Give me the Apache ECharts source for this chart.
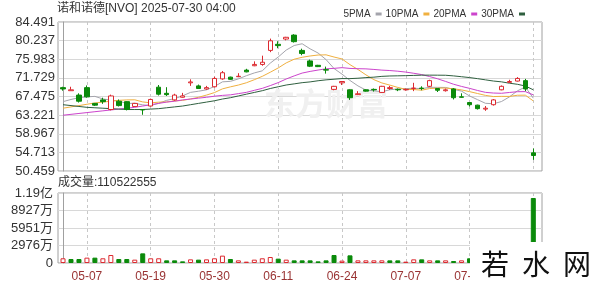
<!DOCTYPE html>
<html><head><meta charset="utf-8">
<script src="https://cdn.jsdelivr.net/npm/echarts@6/dist/echarts.min.js"></script>
<style>html,body{margin:0;padding:0;background:#fff;}#c{width:600px;height:287px;}</style>
</head><body><div id="c"></div>
<script>
// ---------- data ----------
const dates = ['05-02','05-05','05-06','05-07','05-08','05-09','05-12','05-13','05-14','05-15',
  '05-16','05-19','05-20','05-21','05-22','05-23','05-27','05-28','05-29','05-30',
  '06-02','06-03','06-04','06-05','06-06','06-09','06-10','06-11','06-12','06-13',
  '06-16','06-17','06-18','06-20','06-23','06-24','06-25','06-26','06-27','06-30',
  '07-01','07-02','07-03','07-07','07-08','07-09','07-10','07-11','07-14','07-15',
  '07-16','07-17','07-18','07-21','07-22','07-23','07-24','07-25','07-28','07-29'];
const opens  = [69.5,68.8,67.8,69.5,65.9,66.7,64.5,66.4,66.3,65.2, 64.5,65.3,69.6,68.2,66.7,67.3,70.6,69.9,69.2,69.7,
  71.5,71.9,72.0,73.5,74.5,74.8,78.0,79.4,80.6,81.5, 78.0,75.6,74.6,73.6,69.1,70.6,69.0,67.9,69.0,69.1,
  68.4,69.3,69.1,69.0,69.3,69.4,69.8,69.3,68.8,69.2, 67.4,66.1,65.5,64.6,65.6,69.0,70.7,71.0,71.1,54.6];
const closes = [69.2,69.0,66.4,67.4,65.5,66.3,67.6,65.4,64.5,65.9, 64.4,66.8,68.0,67.9,67.8,67.6,70.8,69.3,69.5,71.6,
  72.9,71.4,72.1,73.1,74.8,75.3,80.2,79.1,81.0,80.0, 77.3,74.4,74.3,73.5,69.8,70.9,67.2,68.1,68.7,69.0,
  69.8,69.5,69.0,69.1,69.4,69.3,71.1,68.9,69.0,67.2, 67.3,65.6,64.7,64.8,66.7,69.8,70.9,71.6,69.2,54.0];
const lows   = [68.8,68.8,66.1,67.2,65.3,65.8,64.3,65.2,64.3,65.1, 63.3,65.2,67.7,67.6,66.5,67.2,69.9,69.2,69.0,69.5,
  71.3,71.3,71.9,73.0,74.4,74.5,77.6,78.5,80.3,79.8, 76.9,74.2,74.2,72.7,68.9,70.1,66.7,67.8,68.6,68.6,
  68.3,69.0,68.7,68.8,68.7,68.9,69.6,68.5,68.6,66.8, 67.2,65.2,64.5,64.2,65.4,68.9,70.6,70.9,68.7,53.0];
const highs  = [69.7,69.7,68.2,70.0,66.0,67.2,67.9,66.8,66.4,66.0, 64.6,67.0,70.1,69.6,68.1,68.3,71.4,70.2,69.9,72.0,
  73.3,72.0,72.8,73.8,75.5,76.8,80.7,80.1,81.1,81.7, 78.4,75.9,74.7,74.3,69.9,71.0,69.1,68.7,69.1,69.3,
  69.9,69.9,69.3,69.3,70.6,69.8,71.3,69.4,69.3,69.4, 68.2,66.2,65.6,65.3,66.9,70.0,71.3,71.9,71.5,55.6];
const volumes = [8000000,6800000,6800000,9100000,9100000,8000000,13600000,6800000,6800000,5700000,
  16400000,8000000,8000000,4500000,4500000,2800000,6200000,5700000,6200000,8000000,
  12500000,6800000,4500000,2300000,5700000,8000000,10200000,7400000,5700000,4500000,
  4500000,4500000,2800000,4500000,13600000,4000000,13000000,4500000,4500000,4500000,
  4500000,4500000,4500000,2300000,6200000,6200000,4500000,4500000,4500000,3400000,
  4500000,8000000,7000000,6000000,6500000,9000000,6000000,7000000,9000000,110522555];
const priorClose = 68.6;
// moving-average values before enough in-window history exists
const ma5Head  = [66.3,66.8,67.2,67.4];
const ma10Head = [64.8,65.1,65.4,65.7,66.0,66.2,66.4,66.6,66.7];
const ma20Head = [63.2,63.4,63.6,63.8,64.0,64.2,64.4,64.6,64.8,65.0,65.3,65.6,65.9,66.2,66.4,66.7,66.9,67.1,67.3];
const ma30Head = [65.6,65.4,65.2,65.0,64.9,64.8,64.7,64.6,64.5,64.5,64.5,64.6,64.7,64.9,65.1,65.3,65.6,65.9,66.2,
  66.5,66.9,67.2,67.6,68.0,68.4,68.8,69.3,69.7,70.1];
const maNames = ['5PMA','10PMA','20PMA','30PMA'];
const labelIdx = [3,11,19,27,35,43,51];
const gridIdx  = [3,11,19,27,35,43,51,59];
const priceMin = 50.459, priceMax = 84.491, priceStep = 4.254;
const volMax = 119020000;
const titleText = '诺和诺德[NVO] 2025-07-30 04:00';

// ---------- build ----------
function maSeries(n, head){
  return closes.map((c,i)=>{
    if(i < n-1) return [i, head[i]];
    let s=0; for(let k=i-n+1;k<=i;k++) s+=closes[k];
    return [i, +(s/n).toFixed(3)];
  });
}
const UP='#dc2a30', DOWN='#0a8a0a';
const candleData = dates.map((d,i)=>[i, opens[i], closes[i], lows[i], highs[i]]);
const volData = volumes.map((v,i)=>{
  const prev = i===0 ? priorClose : closes[i-1];
  const up = closes[i] >= prev;
  return {value:[i,v], itemStyle:{color: up?'#fff':DOWN, borderColor: up?UP:DOWN, borderWidth:1}};
});
const maColors = ['#a4a4ac','#f0b040','#cc44cc','#2f5f3f'];
const maHeads = [ma5Head, ma10Head, ma20Head, ma30Head];
const maNs = [5,10,20,30];
const FONT = '"Liberation Sans","Noto Sans CJK SC",sans-serif';

const xMin = -0.63, xMax = 60.09;
function xAxisCfg(gi, showLabel){
  return {type:'value', gridIndex:gi, min:xMin, max:xMax,
    axisLine:{show:false},
    axisTick:{show:false, customValues:gridIdx},
    axisLabel:{show:showLabel, customValues:labelIdx, formatter:v=>dates[v]||'', color:'#993333', fontSize:12, fontFamily:FONT, margin:8},
    splitLine:{show:true, lineStyle:{type:[3,3], color:'#c8c8c8'}}};
}

const chart = echarts.init(document.getElementById('c'), null, {renderer:'canvas'});
chart.setOption({
  animation:false,
  backgroundColor:'#fff',
  legend:{data:maNames, right:70, top:4, align:'right', icon:'rect', itemWidth:6, itemHeight:3, itemGap:4,
    selectedMode:false, textStyle:{fontSize:10, fontFamily:FONT, color:'#333'}},
  grid:[
    {left:58, right:58, top:22, height:149, show:true, borderColor:'#a0a0a0', borderWidth:1},
    {left:58, right:58, top:193, height:70, show:true, borderColor:'#a0a0a0', borderWidth:1}
  ],
  xAxis:[xAxisCfg(0,false), xAxisCfg(1,true)],
  yAxis:[
    {type:'value', gridIndex:0, min:priceMin, max:priceMax, interval:priceStep,
      axisLine:{show:true, lineStyle:{color:'#a0a0a0'}}, axisTick:{show:false},
      axisLabel:{color:'#333', fontSize:13, fontFamily:FONT, margin:3, formatter:v=>v.toFixed(3)},
      splitLine:{lineStyle:{color:'#d8d8d8'}}},
    {type:'value', gridIndex:1, min:0, max:volMax, interval:volMax/4,
      axisLine:{show:true, lineStyle:{color:'#a0a0a0'}}, axisTick:{show:false},
      axisLabel:{color:'#333', fontSize:13, fontFamily:FONT, margin:5,
        formatter:v=> v>=1e8 ? (v/1e8).toFixed(2)+'亿' : (v<=0 ? '0' : Math.round(v/1e4)+'万')},
      splitLine:{lineStyle:{color:'#d8d8d8'}}}
  ],
  series:[
    {type:'candlestick', name:'K', xAxisIndex:0, yAxisIndex:0, data:candleData, encode:{x:0,y:[1,2,3,4]},
      barWidth:5, itemStyle:{color:'#fff', color0:DOWN, borderColor:UP, borderColor0:DOWN, borderWidth:1}, z:5},
    ...maNames.map((n,k)=>({type:'line', name:n, xAxisIndex:0, yAxisIndex:0, data:maSeries(maNs[k], maHeads[k]),
      showSymbol:false, symbol:'none', itemStyle:{color:maColors[k]}, lineStyle:{width:1, color:maColors[k]}, z:4})),
    {type:'bar', name:'VOL', xAxisIndex:1, yAxisIndex:1, data:volData, barWidth:5}
  ],
  graphic:[
    {type:'text', x:57, y:9, z:10, style:{text:titleText, fill:'#333', font:'12px '+FONT, verticalAlign:'middle'}},
    {type:'text', x:58, y:183, z:10, style:{text:'成交量:'+volumes[volumes.length-1], fill:'#333', font:'12px '+FONT, verticalAlign:'middle'}},
    {type:'text', x:326, y:103, z:1, silent:true, style:{text:'东方财富', fill:'#f0f0f0', font:'bold 31px "Noto Sans CJK SC"', align:'center', verticalAlign:'middle'}},
    {type:'rect', z:100, shape:{x:470, y:242, width:130, height:45}, style:{fill:'#fff'}},
    {type:'text', x:495, y:264, z:101, style:{text:'若', fill:'#111', font:'28px "Noto Sans CJK SC"', align:'center', verticalAlign:'middle'}},
    {type:'text', x:536, y:264, z:101, style:{text:'水', fill:'#111', font:'28px "Noto Sans CJK SC"', align:'center', verticalAlign:'middle'}},
    {type:'text', x:577, y:264, z:101, style:{text:'网', fill:'#111', font:'28px "Noto Sans CJK SC"', align:'center', verticalAlign:'middle'}}
  ]
});
</script></body></html>
